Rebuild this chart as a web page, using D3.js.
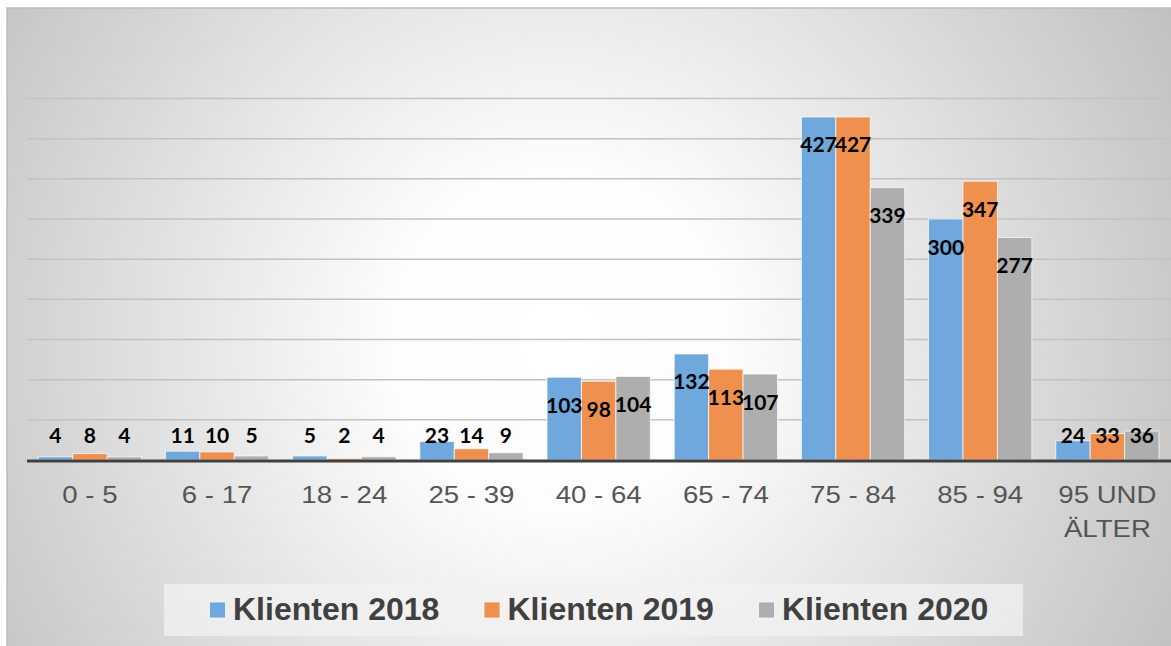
<!DOCTYPE html>
<html>
<head>
<meta charset="utf-8">
<script src="https://cdn.jsdelivr.net/npm/d3@7"></script>
<style>
  body { margin: 0; background: #fff; }
  svg { display: block; }
</style>
</head>
<body>
<div id="chart"></div>
<script>
// values
var categories = ["0 - 5", "6 - 17", "18 - 24", "25 - 39", "40 - 64", "65 - 74", "75 - 84", "85 - 94", "95 UND ÄLTER"]
var series = ["Klienten 2018", "Klienten 2019", "Klienten 2020"]
var klienten2018 = [4, 11, 5, 23, 103, 132, 427, 300, 24]
var klienten2019 = [8, 10, 2, 14, 98, 113, 427, 347, 33]
var klienten2020 = [4, 5, 4, 9, 104, 107, 339, 277, 36]
var yTicks = [50, 100, 150, 200, 250, 300, 350, 400, 450]

var colors = ["#6fa8dc", "#f0904e", "#aeaeae"]
var values = [klienten2018, klienten2019, klienten2020]

var width = 1171, height = 646

var svg = d3.select("#chart").append("svg")
    .attr("width", width)
    .attr("height", height)

// background gradient, bright in the middle and grey to the edges
var grad = svg.append("defs").append("radialGradient")
    .attr("id", "bg")
    .attr("gradientUnits", "userSpaceOnUse")
    .attr("cx", 560).attr("cy", 340).attr("r", 700)
grad.append("stop").attr("offset", "0%").attr("stop-color", "#ffffff")
grad.append("stop").attr("offset", "25%").attr("stop-color", "#fcfcfc")
grad.append("stop").attr("offset", "100%").attr("stop-color", "#c0c0c0")

svg.append("rect")
    .attr("x", 7).attr("y", 8)
    .attr("width", width).attr("height", height)
    .attr("fill", "url(#bg)")
    .attr("stroke", "#bdbdbd")
    .attr("stroke-width", 1.5)

var x0 = d3.scaleBand()
    .domain(categories)
    .range([26.3, 1171])
    .paddingInner(0.188)
    .paddingOuter(0.094)

var x1 = d3.scaleBand()
    .domain(series)
    .range([0, x0.bandwidth()])

var y = d3.scaleLinear()
    .domain([0, 450])
    .range([460, 98.5])

// gridlines
svg.append("g")
    .selectAll("line")
    .data(yTicks)
    .join("line")
    .attr("x1", 27)
    .attr("x2", width)
    .attr("y1", d => y(d))
    .attr("y2", d => y(d))
    .attr("stroke", "#c2c2c2")
    .attr("stroke-width", 1.5)

// bars
var groups = svg.append("g")
    .selectAll("g")
    .data(categories)
    .join("g")
    .attr("transform", d => "translate(" + x0(d) + ",0)")

groups.selectAll("rect")
    .data((c, i) => series.map((s, j) => ({s: s, j: j, v: values[j][i]})))
    .join("rect")
    .attr("x", d => x1(d.s))
    .attr("width", x1.bandwidth())
    .attr("y", d => y(d.v))
    .attr("height", d => y(0) - y(d.v))
    .attr("fill", d => colors[d.j])
    .attr("stroke", "rgba(255,255,255,0.7)")
    .attr("stroke-width", 1)

// data labels: inside the top of tall bars, just above the axis for short ones
groups.selectAll("text")
    .data((c, i) => series.map((s, j) => ({s: s, j: j, v: values[j][i]})))
    .join("text")
    .attr("x", d => x1(d.s) + x1.bandwidth() / 2)
    .attr("y", d => Math.min(y(d.v) + 35.5, y(0) - 17.5))
    .attr("text-anchor", "middle")
    .attr("font-family", "Lato, 'Open Sans', sans-serif")
    .attr("font-weight", "bold")
    .attr("font-size", "21px")
    .attr("fill", "#000")
    .text(d => d.v)

// axis baseline
svg.append("line")
    .attr("x1", 27).attr("x2", width)
    .attr("y1", y(0) + 1).attr("y2", y(0) + 1)
    .attr("stroke", "#404040")
    .attr("stroke-width", 3)

// category labels (the source image is stretched a bit horizontally)
var xl = svg.append("g")
    .selectAll("text")
    .data(categories)
    .join("text")
    .attr("transform", d => "translate(" + (x0(d) + x0.bandwidth() / 2) + ",503) scale(1.15,1)")
    .attr("text-anchor", "middle")
    .attr("font-family", "'Liberation Sans', Arial, sans-serif")
    .attr("font-size", "24px")
    .attr("fill", "#555555")

xl.each(function (d) {
    var el = d3.select(this)
    var parts = d == "95 UND ÄLTER" ? ["95 UND", "ÄLTER"] : [d]
    parts.forEach((p, k) => {
        el.append("tspan")
            .attr("x", 0)
            .attr("dy", k == 0 ? 0 : 34.5)
            .text(p)
    })
})

// legend
var legend = svg.append("g")
legend.append("rect")
    .attr("x", 164).attr("y", 584)
    .attr("width", 859).attr("height", 52)
    .attr("fill", "#f2f2f2")
    .attr("opacity", 0.75)

var item = legend.selectAll("g")
    .data(series)
    .join("g")
    .attr("transform", (d, i) => "translate(" + (209 + i * 274.5) + ",0)")

item.append("rect")
    .attr("x", 0.5).attr("y", 602)
    .attr("width", 16).attr("height", 16)
    .attr("fill", (d, i) => colors[i])
    .attr("stroke", "rgba(255,255,255,0.7)")
    .attr("stroke-width", 1)

item.append("text")
    .attr("x", 24)
    .attr("y", 620)
    .attr("font-family", "'Liberation Sans', Arial, sans-serif")
    .attr("font-weight", "bold")
    .attr("font-size", "32px")
    .attr("fill", "#404040")
    .text(d => d)
</script>
</body>
</html>
